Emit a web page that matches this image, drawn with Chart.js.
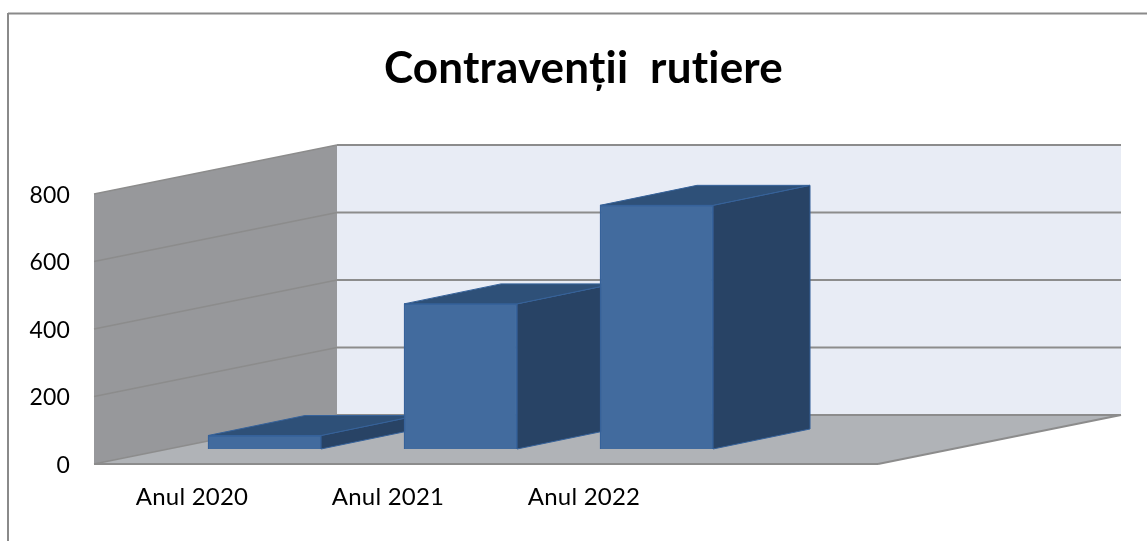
<!DOCTYPE html>
<html>
<head>
<meta charset="utf-8">
<style>html,body{margin:0;padding:0;background:#fff}canvas{display:block}</style>
<script src="https://cdn.jsdelivr.net/npm/chart.js@4/dist/chart.umd.js"></script>
</head>
<body>
<canvas id="c" width="1147" height="541"></canvas>
<script>
const categories = ["Anul 2020", "Anul 2021", "Anul 2022", ""];
const values = [40, 430, 722];
const yTicks = [0, 200, 400, 600, 800];
const titleText = "Contravenții  rutiere";

const WALL_DX = 243, WALL_DY = -49;
const BAR_DX = 97, BAR_DY = -20;
const C = {
  frame: "#8a8a8a", leftWall: "#97989b", backWall: "#e8ecf5", floor: "#b0b3b7",
  grid: "#8c8c8c", front: "#426b9e", frontEdge: "#36629a", side: "#284365", top: "#2e5078"
};

function poly(ctx, pts, fill, stroke, lw) {
  ctx.beginPath();
  pts.forEach((p, i) => i ? ctx.lineTo(p[0], p[1]) : ctx.moveTo(p[0], p[1]));
  ctx.closePath();
  if (fill) { ctx.fillStyle = fill; ctx.fill(); }
  if (stroke) { ctx.strokeStyle = stroke; ctx.lineWidth = lw || 1; ctx.stroke(); }
}
function seg(ctx, x1, y1, x2, y2, color, lw) {
  ctx.beginPath(); ctx.moveTo(x1, y1); ctx.lineTo(x2, y2);
  ctx.strokeStyle = color; ctx.lineWidth = lw; ctx.stroke();
}

const scene3d = {
  id: "scene3d",
  beforeDraw(chart) {
    const ctx = chart.ctx;
    // a tiny letter spacing switches off the Lato "ti" ligature
    ctx.letterSpacing = "0.2px";
    ctx.save();
    ctx.fillStyle = "#fff";
    ctx.fillRect(0, 0, chart.width, chart.height);
    seg(ctx, 8, 13.5, chart.width, 13.5, C.frame, 2);
    seg(ctx, 8, 13, 8, chart.height, C.frame, 2);
    ctx.restore();
  },
  beforeDatasetsDraw(chart) {
    const ctx = chart.ctx, a = chart.chartArea, y = chart.scales.y;
    const L = a.left, R = a.right, T = a.top, B = a.bottom;
    ctx.save();
    // walls and floor
    poly(ctx, [[L + WALL_DX, T + WALL_DY], [R + WALL_DX, T + WALL_DY], [R + WALL_DX, B + WALL_DY], [L + WALL_DX, B + WALL_DY]], C.backWall);
    poly(ctx, [[L, T], [L + WALL_DX, T + WALL_DY], [L + WALL_DX, B + WALL_DY], [L, B]], C.leftWall);
    poly(ctx, [[L, B], [R, B], [R + WALL_DX, B + WALL_DY], [L + WALL_DX, B + WALL_DY]], C.floor);
    // gridlines
    y.ticks.forEach((t, i) => {
      const py = y.getPixelForTick(i);
      seg(ctx, L, py, L + WALL_DX, py + WALL_DY, C.grid, 1.3);
      seg(ctx, L + WALL_DX, py + WALL_DY, R + WALL_DX, py + WALL_DY, C.grid, 2);
    });
    seg(ctx, L, B, R, B, C.grid, 2);
    seg(ctx, R, B, R + WALL_DX, B + WALL_DY, C.grid, 2);
    // bar depth faces
    chart.getDatasetMeta(0).data.forEach(el => {
      const l = el.x - el.width / 2, r = el.x + el.width / 2, t = el.y, b = el.base;
      poly(ctx, [[r, t], [r + BAR_DX, t + BAR_DY], [r + BAR_DX, b + BAR_DY], [r, b]], C.side, C.frontEdge, 1);
      poly(ctx, [[l, t], [r, t], [r + BAR_DX, t + BAR_DY], [l + BAR_DX, t + BAR_DY]], C.top, C.frontEdge, 1);
    });
    ctx.restore();
  }
};

new Chart(document.getElementById("c"), {
  type: "bar",
  data: {
    labels: categories,
    datasets: [{
      data: values.map((v, i) => ({ x: i, y: v })),
      xAxisID: "x2",
      yAxisID: "y2",
      backgroundColor: C.front,
      borderColor: C.frontEdge,
      borderWidth: 1.5,
      barThickness: 113
    }]
  },
  plugins: [scene3d],
  options: {
    responsive: false,
    animation: false,
    layout: { padding: { left: 20, right: 0, top: 0, bottom: 0 } },
    plugins: {
      legend: { display: false },
      tooltip: { enabled: false },
      title: {
        display: true,
        text: titleText,
        color: "#000",
        font: { family: "Lato", size: 44, weight: "bold" },
        padding: { top: 42, bottom: 99.2 }
      }
    },
    scales: {
      x: {
        type: "category",
        offset: true,
        grid: { display: false, drawTicks: false },
        border: { display: false },
        ticks: { color: "#000", font: { family: "Lato", size: 24 }, padding: 19, maxRotation: 0, autoSkip: false },
        afterFit(s) { s.height = 77; }
      },
      y: {
        type: "linear",
        min: 0, max: 800,
        afterBuildTicks(s) { s.ticks = yTicks.map(v => ({ value: v })); },
        grid: { display: false, drawTicks: false },
        border: { display: false },
        ticks: { color: "#000", font: { family: "Lato", size: 23 }, padding: 24, labelOffset: 1.5 },
        afterFit(s) { s.width = 74; }
      },
      x2: { type: "linear", display: false, offset: false, min: -0.87, max: 3.13, grid: { display: false } },
      y2: {
        type: "linear", display: true, position: "right", min: -44.4, max: 755.6,
        grid: { display: false, drawTicks: false },
        border: { display: false },
        ticks: { display: false },
        afterFit(s) { s.width = 269; }
      }
    }
  }
});
</script>
</body>
</html>
